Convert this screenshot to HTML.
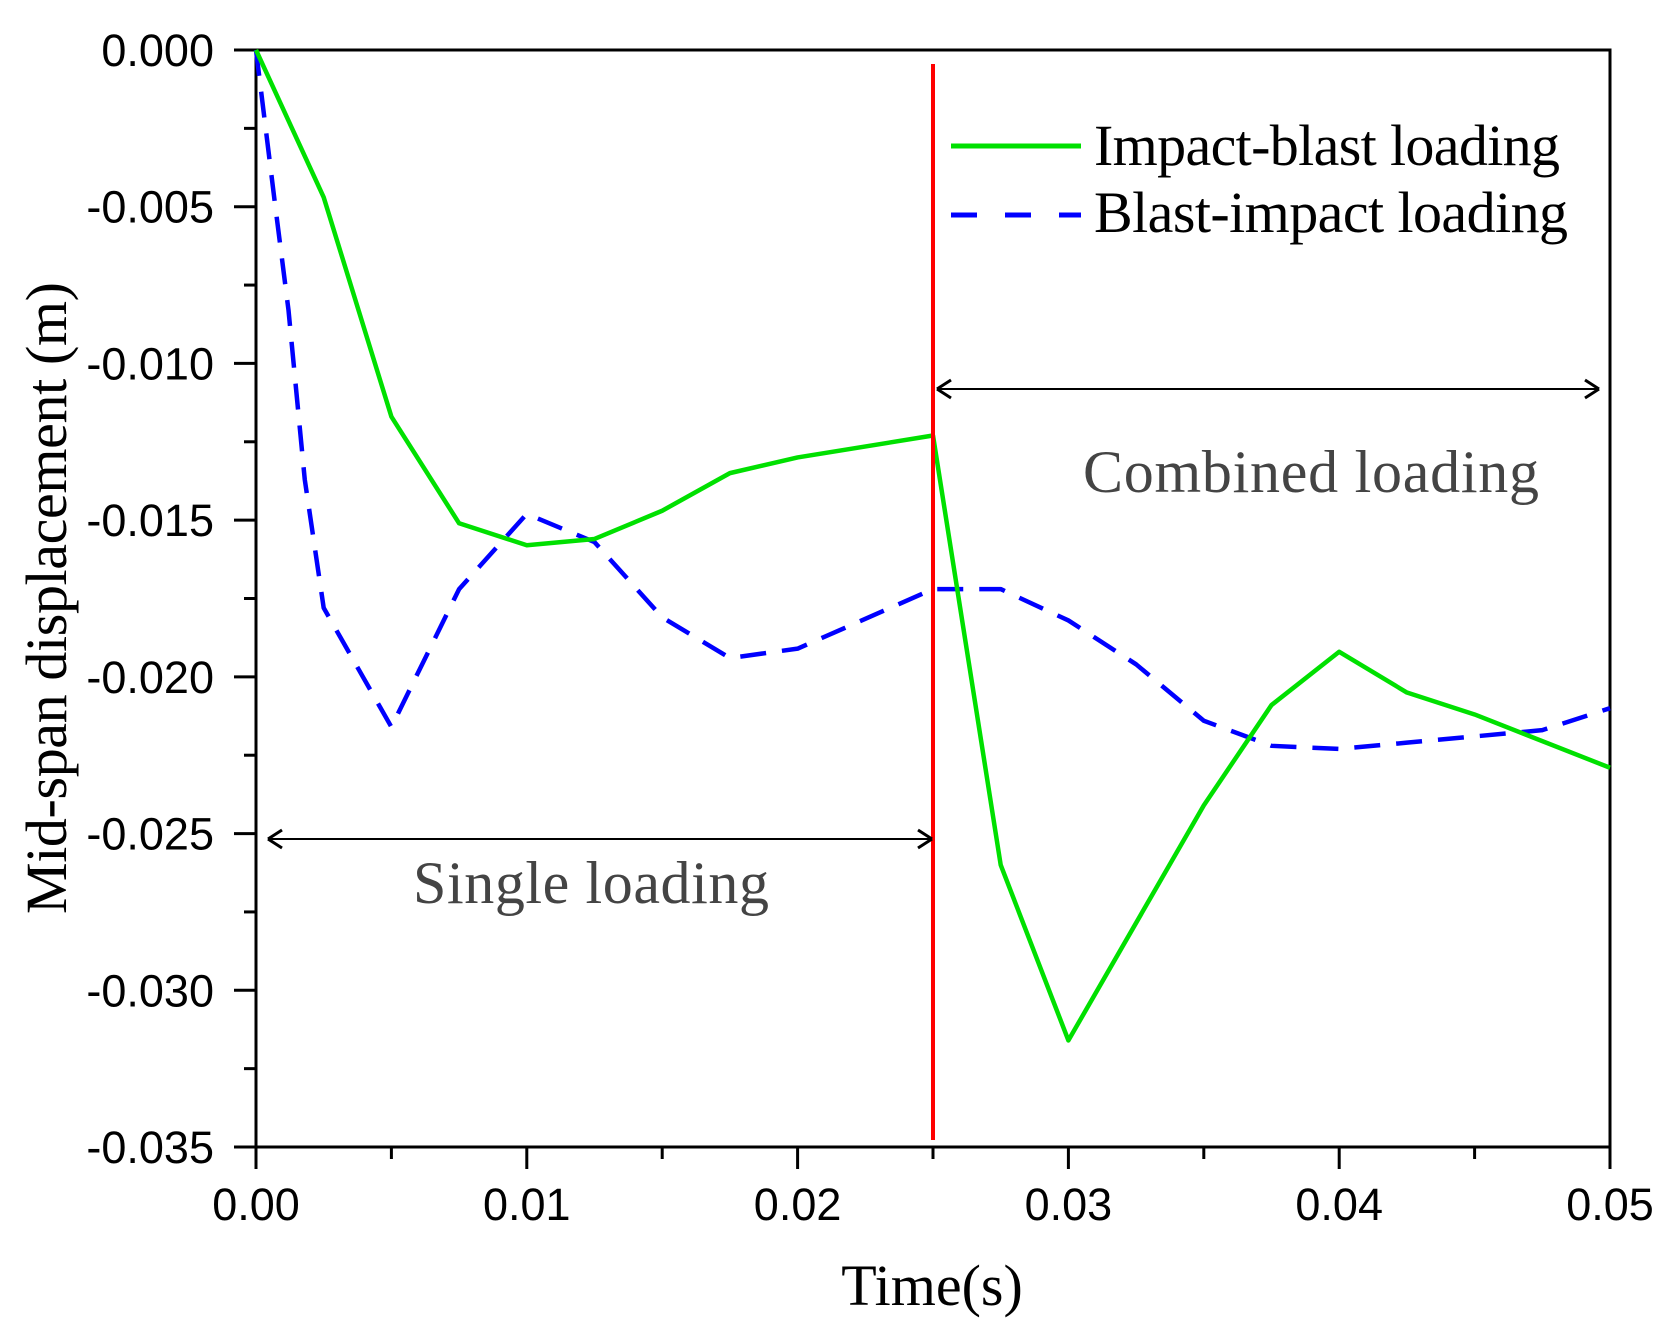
<!DOCTYPE html>
<html><head><meta charset="utf-8"><style>
html,body{margin:0;padding:0;background:#fff;}
svg{display:block;}
</style></head><body>
<svg id="chart" width="1670" height="1343" viewBox="0 0 1670 1343" xmlns="http://www.w3.org/2000/svg">
<g id="axes"></g>
<g id="series"></g>
<line x1="933" y1="64" x2="933" y2="1140" stroke="#ff0000" stroke-width="4"/>
<g>
<line x1="951" y1="146" x2="1081" y2="146" stroke="#00e000" stroke-width="5"/>
<text x="1094" y="165" font-family="Liberation Serif, serif" font-size="58" fill="#000" textLength="466">Impact-blast loading</text>
<line x1="951" y1="215" x2="1081" y2="215" stroke="#0000ff" stroke-width="5" stroke-dasharray="26,28"/>
<text x="1094" y="232" font-family="Liberation Serif, serif" font-size="58" fill="#000" textLength="474">Blast-impact loading</text>
</g>
<g>
<line x1="938" y1="389" x2="1598" y2="389" stroke="#000" stroke-width="2"/>
<path d="M937,389 l14,-9 M937,389 l14,9 M1599,389 l-14,-9 M1599,389 l-14,9" stroke="#000" stroke-width="3" fill="none"/>
<text x="1083" y="492" font-family="Liberation Serif, serif" font-size="60" fill="#444" textLength="456">Combined loading</text>
</g>
<g>
<line x1="269" y1="839" x2="931" y2="839" stroke="#000" stroke-width="2"/>
<path d="M268,839 l14,-9 M268,839 l14,9 M932,839 l-14,-9 M932,839 l-14,9" stroke="#000" stroke-width="3" fill="none"/>
<text x="413" y="903" font-family="Liberation Serif, serif" font-size="60" fill="#444" textLength="356">Single loading</text>
</g>
<text x="932" y="1305" text-anchor="middle" font-family="Liberation Serif, serif" font-size="58" fill="#000">Time(s)</text>
<text transform="translate(66,598) rotate(-90)" text-anchor="middle" font-family="Liberation Serif, serif" font-size="58" fill="#000" textLength="632">Mid-span displacement (m)</text>
</svg>
<script>
const xTicks=[0,0.01,0.02,0.03,0.04,0.05];
const xTickLabels=["0.00","0.01","0.02","0.03","0.04","0.05"];
const yTicks=[0,-0.005,-0.010,-0.015,-0.020,-0.025,-0.030,-0.035];
const yTickLabels=["0.000","-0.005","-0.010","-0.015","-0.020","-0.025","-0.030","-0.035"];
const impactTime=[0,0.0025,0.005,0.0075,0.01,0.0125,0.015,0.0175,0.02,0.025,0.0275,0.03,0.035,0.0375,0.04,0.0425,0.045,0.05];
const impactDisp=[0,-0.0047,-0.0117,-0.0151,-0.0158,-0.0156,-0.0147,-0.0135,-0.0130,-0.0123,-0.0260,-0.0316,-0.0241,-0.0209,-0.0192,-0.0205,-0.0212,-0.0229];
const blastTime=[0,0.0007,0.0012,0.0018,0.0025,0.005,0.0075,0.01,0.0125,0.015,0.0175,0.02,0.025,0.0275,0.03,0.0325,0.035,0.0375,0.04,0.0425,0.045,0.0475,0.05];
const blastDisp=[0,-0.0049,-0.0083,-0.0137,-0.0178,-0.0216,-0.0172,-0.0148,-0.0157,-0.0181,-0.0194,-0.0191,-0.0172,-0.0172,-0.0182,-0.0196,-0.0214,-0.0222,-0.0223,-0.0221,-0.0219,-0.0217,-0.0210];
const X0=256,X1=1610,Y0=50,Y1=1147;
function sx(t){return X0+(t-0)/(0.05)*(X1-X0);}
function sy(v){return Y0+(0-v)/0.035*(Y1-Y0);}
const NS="http://www.w3.org/2000/svg";
const axes=document.getElementById('axes');
function mk(tag,attrs,parent){const e=document.createElementNS(NS,tag);for(const k in attrs)e.setAttribute(k,attrs[k]);parent.appendChild(e);return e;}
const frame=mk('rect',{x:X0,y:Y0,width:X1-X0,height:Y1-Y0,fill:'none',stroke:'#000','stroke-width':3},axes);


xTicks.forEach((t,i)=>{
  const l=mk('line',{x1:sx(t),y1:Y1,x2:sx(t),y2:Y1+22,stroke:'#000','stroke-width':3},axes);
  
  
  if(i<xTicks.length-1){
    const m=mk('line',{x1:sx(t+0.005),y1:Y1,x2:sx(t+0.005),y2:Y1+12,stroke:'#000','stroke-width':3},axes);
    
    
  }
  const tx=mk('text',{x:sx(t),y:1220,'text-anchor':'middle','font-family':'Liberation Sans, sans-serif','font-size':45,fill:'#000'},axes);
  tx.textContent=xTickLabels[i];
  
  
});
yTicks.forEach((v,i)=>{
  const l=mk('line',{x1:X0-22,y1:sy(v),x2:X0,y2:sy(v),stroke:'#000','stroke-width':3},axes);
  
  
  if(i<yTicks.length-1){
    const m=mk('line',{x1:X0-12,y1:sy(v-0.0025),x2:X0,y2:sy(v-0.0025),stroke:'#000','stroke-width':3},axes);
    
    
  }
  const tx=mk('text',{x:214,y:sy(v)+16,'text-anchor':'end','font-family':'Liberation Sans, sans-serif','font-size':45,fill:'#000'},axes);
  tx.textContent=yTickLabels[i];
  
  
});
const series=document.getElementById('series');
const pb=mk('polyline',{points:blastTime.map((t,i)=>sx(t)+','+sy(blastDisp[i])).join(' '),fill:'none',stroke:'#0000ff','stroke-width':4.5,'stroke-dasharray':'26,16','stroke-linejoin':'round'},series);


const pg=mk('polyline',{points:impactTime.map((t,i)=>sx(t)+','+sy(impactDisp[i])).join(' '),fill:'none',stroke:'#00e000','stroke-width':4.5,'stroke-linejoin':'round'},series);


</script>
</body></html>
